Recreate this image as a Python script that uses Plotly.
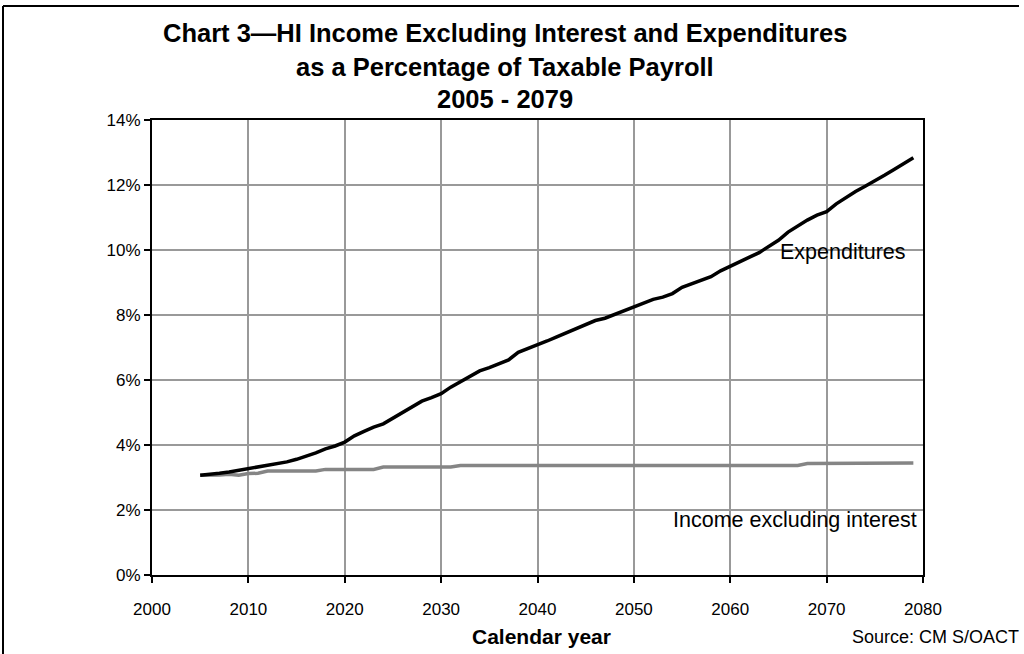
import plotly.graph_objects as go

years = list(range(2005, 2080))

expenditures = [
    3.07, 3.09, 3.13, 3.17, 3.22, 3.28, 3.33, 3.38, 3.43, 3.48,
    3.56, 3.65, 3.76, 3.88, 3.97, 4.09, 4.28, 4.42, 4.55, 4.65,
    4.82, 5.00, 5.15, 5.35, 5.46, 5.58, 5.78, 5.95, 6.10, 6.28,
    6.38, 6.50, 6.62, 6.85, 6.96, 7.07, 7.20, 7.33, 7.46, 7.58,
    7.70, 7.83, 7.90, 8.02, 8.14, 8.26, 8.38, 8.48, 8.55, 8.66,
    8.85, 8.96, 9.07, 9.18, 9.36, 9.51, 9.64, 9.78, 9.92, 10.10,
    10.30, 10.55, 10.75, 10.92, 11.07, 11.18, 11.42, 11.62, 11.80, 11.96,
    12.12, 12.30, 12.48, 12.66, 12.84,
]

income_excl_interest = [
    3.07, 3.07, 3.08, 3.10, 3.07, 3.12, 3.13, 3.20, 3.20, 3.20,
    3.20, 3.20, 3.20, 3.25, 3.25, 3.25, 3.25, 3.25, 3.25, 3.32,
    3.32, 3.32, 3.32, 3.32, 3.32, 3.32, 3.32, 3.37, 3.37, 3.37,
    3.37, 3.37, 3.37, 3.37, 3.37, 3.37, 3.37, 3.37, 3.37, 3.37,
    3.37, 3.37, 3.37, 3.37, 3.37, 3.37, 3.37, 3.37, 3.37, 3.37,
    3.37, 3.37, 3.37, 3.37, 3.37, 3.37, 3.37, 3.37, 3.37, 3.37,
    3.37, 3.37, 3.37, 3.43, 3.43, 3.43, 3.43, 3.43, 3.43, 3.43,
    3.43, 3.43, 3.43, 3.43, 3.45,
]

title_lines = [
    "Chart 3\u2014HI Income Excluding Interest and Expenditures",
    "as a Percentage of Taxable Payroll",
    "2005 - 2079",
]
x_ticks = [2000, 2010, 2020, 2030, 2040, 2050, 2060, 2070, 2080]
y_ticks = [0, 2, 4, 6, 8, 10, 12, 14]
y_tick_labels = ["0%", "2%", "4%", "6%", "8%", "10%", "12%", "14%"]

FONT = "Liberation Sans, Arial, sans-serif"

# plot area in pixels
L, R, T, B = 152, 923, 120, 575
W, H = 1024, 654


def px(x):
    return (x - L) / (R - L)


def py(y):
    return (B - y) / (B - T)


fig = go.Figure()
fig.add_trace(go.Scatter(x=years, y=income_excl_interest, mode="lines",
                         line=dict(color="#858585", width=3.5),
                         name="Income excluding interest", hoverinfo="skip"))
fig.add_trace(go.Scatter(x=years, y=expenditures, mode="lines",
                         line=dict(color="#000000", width=3.5),
                         name="Expenditures", hoverinfo="skip"))

annotations = []
for t, yc in zip(title_lines, [33, 67, 99]):
    annotations.append(dict(text="<b>" + t + "</b>", x=px(504.5), y=py(yc),
                            xref="paper", yref="paper", showarrow=False,
                            xanchor="center", yanchor="middle",
                            font=dict(family=FONT, size=25.5, color="black")))
annotations.append(dict(text="Expenditures", x=px(843), y=py(252),
                        xref="paper", yref="paper", showarrow=False,
                        xanchor="center", yanchor="middle",
                        font=dict(family=FONT, size=21.5, color="black")))
annotations.append(dict(text="Income excluding interest", x=px(795), y=py(520),
                        xref="paper", yref="paper", showarrow=False,
                        xanchor="center", yanchor="middle",
                        font=dict(family=FONT, size=21.5, color="black")))
annotations.append(dict(text="<b>Calendar year</b>", x=px(541), y=py(636),
                        xref="paper", yref="paper", showarrow=False,
                        xanchor="center", yanchor="middle",
                        font=dict(family=FONT, size=21, color="black")))
annotations.append(dict(text="Source: CM S/OACT", x=px(1021), y=py(637),
                        xref="paper", yref="paper", showarrow=False,
                        xanchor="right", yanchor="middle",
                        font=dict(family=FONT, size=18, color="black")))

shapes = [
    dict(type="line", xref="paper", yref="paper", x0=px(3), x1=px(1019),
         y0=py(6), y1=py(6), line=dict(color="black", width=2)),
    dict(type="line", xref="paper", yref="paper", x0=px(3), x1=px(3),
         y0=py(6), y1=py(660), line=dict(color="black", width=2)),
]

fig.update_layout(
    width=W, height=H,
    margin=dict(l=L, r=W - R, t=T, b=H - B, pad=0),
    paper_bgcolor="white", plot_bgcolor="white",
    showlegend=False,
    font=dict(family=FONT, size=17, color="black"),
    annotations=annotations,
    shapes=shapes,
)
fig.update_xaxes(range=[2000, 2080], tickvals=x_ticks,
                 showgrid=True, gridcolor="#999999", gridwidth=1.5,
                 showline=True, linecolor="black", linewidth=2, mirror=True,
                 ticks="outside", ticklen=6, tickcolor="black", tickwidth=1.5,
                 ticklabelstandoff=12, zeroline=False, automargin=False,
                 tickfont=dict(family=FONT, size=17, color="black"))
fig.update_yaxes(range=[0, 14], tickvals=y_ticks, ticktext=y_tick_labels,
                 showgrid=True, gridcolor="#999999", gridwidth=1.5,
                 showline=True, linecolor="black", linewidth=2, mirror=True,
                 ticks="outside", ticklen=6, tickcolor="black", tickwidth=1.5,
                 zeroline=False, automargin=False,
                 tickfont=dict(family=FONT, size=17, color="black"))

fig.write_html("out.html", config={"displayModeBar": False},
               post_script="document.body.style.margin='0';document.body.style.overflow='hidden';")
